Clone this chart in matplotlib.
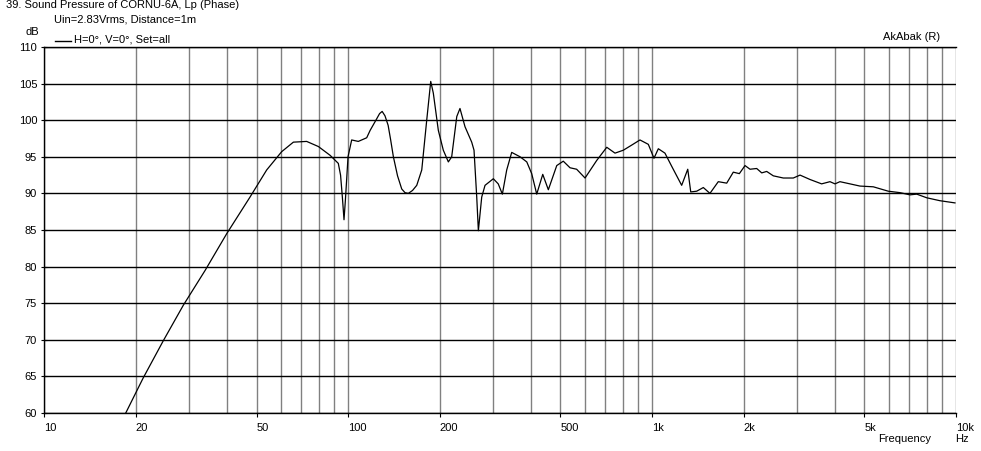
import matplotlib.pyplot as plt
from matplotlib.ticker import FixedLocator, NullFormatter

plt.rcParams['font.family'] = ['Liberation Sans', 'DejaVu Sans']

# frequency response (Hz, dB)
freq = [18.57, 21.2, 24.7, 28.7, 33.9, 39.9, 47.6, 54.0, 60.5, 66.1, 73.1, 79.9,
        87.3, 92.9, 94.5, 95.8, 97.0, 98.0, 99.0, 100.0, 102.8, 108.1, 115.2, 118.2,
        124.3, 127.0, 129.5, 132.3, 135.5, 138.0, 141.0, 145.5, 150.2, 154.0, 157.9,
        163.0, 168.3, 174.8, 181.5, 187.1, 190.8,
        198.2, 205.8, 213.8, 219.3, 227.9, 233.5, 242.6, 255.2, 259.7, 265.1, 268.4,
        275.3, 282.3, 300.6, 312, 321.9, 332.7, 345.5, 368.1, 387.3, 402, 417.6,
        437.1, 456, 486, 510.6, 537.4, 565, 602.2, 657.8, 709.8, 755.6, 804.9, 857.6,
        912.9, 972.5, 1015, 1049, 1103, 1161, 1252, 1311, 1341, 1403, 1475, 1551,
        1652, 1761, 1851, 1938, 2023, 2101, 2210, 2296, 2384, 2506, 2704, 2916, 3069,
        3309, 3614, 3850, 3999, 4152, 4481, 4832, 5345, 5987, 6544, 7060, 7427, 8012,
        8855, 9924]
spl = [60.0, 64.8, 69.9, 74.7, 79.5, 84.5, 89.5, 93.2, 95.7, 97.0, 97.1, 96.4,
       95.2, 94.1, 92.5, 89.5, 86.4, 89.0, 92.0, 95.0, 97.3, 97.1, 97.6, 98.6,
       100.2, 100.9, 101.2, 100.6, 99.3, 97.4, 95.0, 92.4, 90.6, 90.1, 90.0,
       90.4, 91.1, 93.2, 100.0, 105.3, 103.7,
       98.6, 95.9, 94.3, 95.0, 100.5, 101.6, 99.1, 97.0, 95.9, 89.5, 84.9,
       89.5, 91.1, 92.0, 91.3, 89.9, 93.2, 95.6, 95.0, 94.3, 92.7, 89.9,
       92.6, 90.5, 93.8, 94.4, 93.5, 93.3, 92.1, 94.5, 96.3, 95.5, 95.9, 96.6,
       97.3, 96.7, 94.8, 96.1, 95.5, 93.7, 91.1, 93.3, 90.2, 90.3, 90.8, 90.0,
       91.6, 91.4, 92.9, 92.7, 93.8, 93.3, 93.4, 92.8, 93.0, 92.4, 92.1, 92.1, 92.5,
       91.9, 91.3, 91.6, 91.3, 91.6, 91.3, 91.0, 90.9, 90.3, 90.1, 89.8, 89.9, 89.4,
       89.0, 88.7]

x_ticks = [10, 20, 50, 100, 200, 500, 1000, 2000, 5000, 10000]
x_labels = ['10', '20', '50', '100', '200', '500', '1k', '2k', '5k', '10k']
y_ticks = list(range(60, 111, 5))

fig = plt.figure(figsize=(9.81, 4.51), dpi=100)
ax = fig.add_axes([0.0449, 0.0843, 0.9296, 0.8115])

ax.semilogx(freq, spl, color='black', linewidth=0.9)
ax.set_xlim(10, 10000)
ax.set_ylim(60, 110)

# grid: gray verticals on every 1-2-3..9 step, black horizontals every 5 dB
minor = [m * d for d in (10, 100, 1000) for m in range(2, 11)]
ax.xaxis.set_minor_locator(FixedLocator(minor))
ax.xaxis.set_minor_formatter(NullFormatter())
ax.set_xticks(x_ticks)
ax.set_xticklabels(x_labels, ha='left')
ax.set_yticks(y_ticks)
ax.grid(axis='x', which='both', color='#808080', linewidth=1)
ax.grid(axis='y', which='major', color='black', linewidth=1)
ax.tick_params(axis='x', which='major', length=3, pad=4, labelsize=8)
ax.tick_params(axis='x', which='minor', length=0)
ax.tick_params(axis='y', length=4, direction='inout', pad=3, labelsize=8)
ax.spines['right'].set_visible(False)
for s in ('top', 'bottom', 'left'):
    ax.spines[s].set_color('black')
    ax.spines[s].set_linewidth(1)

fig.text(6 / 981, 1 - 5 / 451, '39. Sound Pressure of CORNU-6A, Lp (Phase)', fontsize=8, va='center')
fig.text(54 / 981, 1 - 20 / 451, 'Uin=2.83Vrms, Distance=1m', fontsize=8, va='center')
fig.text(25 / 981, 1 - 32 / 451, 'dB', fontsize=8, va='center')
fig.text(74 / 981, 1 - 40 / 451, 'H=0°, V=0°, Set=all', fontsize=8, va='center')
fig.add_artist(plt.Line2D([55 / 981, 71 / 981], [1 - 41 / 451, 1 - 41 / 451],
                          color='black', linewidth=1, transform=fig.transFigure))
fig.text(883 / 981, 1 - 37 / 451, 'AkAbak (R)', fontsize=8, va='center')
fig.text(878 / 981, 1 - 439 / 451, 'Frequency', fontsize=8, va='center')
fig.text(955 / 981, 1 - 439 / 451, 'Hz', fontsize=8, va='center')

fig.savefig('out.png', dpi=100)
